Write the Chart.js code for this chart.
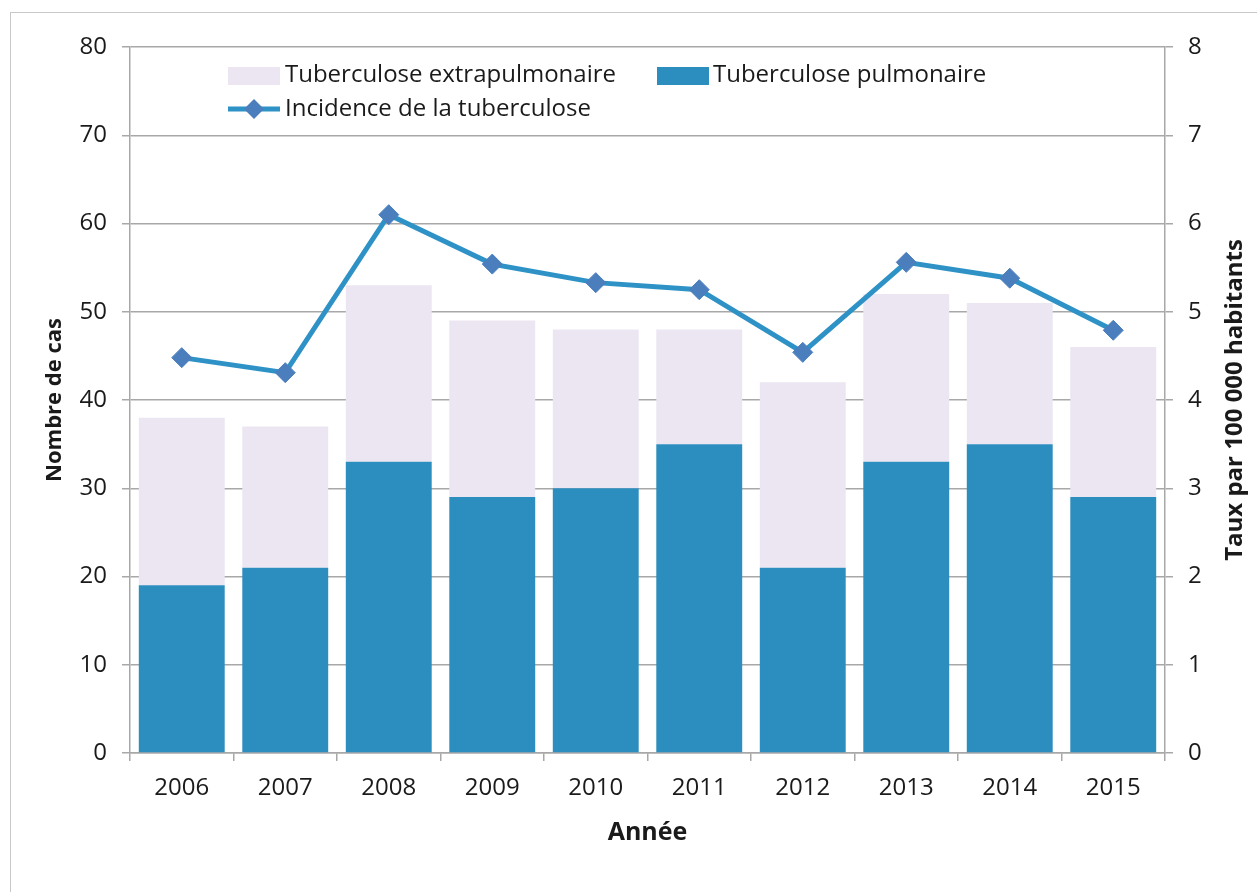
<!DOCTYPE html>
<html lang="fr">
<head>
<meta charset="utf-8">
<title>Tuberculose</title>
<script src="https://cdn.jsdelivr.net/npm/chart.js@4.4.1/dist/chart.umd.min.js"></script>
<style>
  html, body { margin: 0; padding: 0; background: #fff; }
  #wrap { position: relative; width: 1257px; height: 892px; overflow: hidden; }
  #frame { position: absolute; left: 10px; top: 12px; width: 1300px; height: 950px; border: 1px solid #c8c8c8; }
  #chart { position: absolute; left: 0; top: 0; }
</style>
</head>
<body>
<div id="wrap">
  <div id="frame"></div>
  <canvas id="chart" width="1257" height="892"></canvas>
</div>
<script>
// data
const years = ['2006', '2007', '2008', '2009', '2010', '2011', '2012', '2013', '2014', '2015'];
const pulmonaire = [19, 21, 33, 29, 30, 35, 21, 33, 35, 29];
const extrapulmonaire = [19, 16, 20, 20, 18, 13, 21, 19, 16, 17];
const incidence = [4.48, 4.31, 6.10, 5.54, 5.33, 5.25, 4.54, 5.56, 5.38, 4.79];
const leftTicks = [0, 10, 20, 30, 40, 50, 60, 70, 80];
const rightTicks = [0, 1, 2, 3, 4, 5, 6, 7, 8];

const FONT = "'Open Sans', 'DejaVu Sans', sans-serif";
const gridColor = '#a8a8a8';
const textColor = '#1a1a1a';

// legend inside the plot + right axis title (reads bottom to top)
const extras = {
  id: 'extras',
  afterDraw(chart) {
    const ctx = chart.ctx;
    const ds = chart.data.datasets;
    ctx.save();
    ctx.font = '24px ' + FONT;
    ctx.fillStyle = textColor;
    ctx.textBaseline = 'middle';
    ctx.textAlign = 'left';

    // row 1 : extrapulmonaire, pulmonaire
    ctx.fillStyle = ds[1].backgroundColor;
    ctx.fillRect(228, 67, 52, 18);
    ctx.fillStyle = textColor;
    ctx.fillText(ds[1].label, 285, 75);

    ctx.fillStyle = ds[0].backgroundColor;
    ctx.fillRect(657, 67, 52, 18);
    ctx.fillStyle = textColor;
    ctx.fillText(ds[0].label, 713, 75);

    // row 2 : incidence line
    ctx.strokeStyle = ds[2].borderColor;
    ctx.lineWidth = 5;
    ctx.beginPath();
    ctx.moveTo(228, 109);
    ctx.lineTo(280, 109);
    ctx.stroke();
    ctx.fillStyle = ds[2].pointBackgroundColor;
    ctx.beginPath();
    ctx.moveTo(254, 99); ctx.lineTo(264, 109); ctx.lineTo(254, 119); ctx.lineTo(244, 109);
    ctx.closePath();
    ctx.fill();
    ctx.fillStyle = textColor;
    ctx.fillText(ds[2].label, 285, 109);

    // right title
    ctx.font = 'bold 24px ' + FONT;
    ctx.textAlign = 'center';
    ctx.translate(1235, 400);
    ctx.rotate(-Math.PI / 2);
    ctx.fillText('Taux par 100 000 habitants', 0, 0);
    ctx.restore();
  }
};

const ctx = document.getElementById('chart').getContext('2d');
new Chart(ctx, {
  type: 'bar',
  data: {
    labels: years,
    datasets: [
      {
        label: 'Tuberculose pulmonaire',
        data: pulmonaire,
        backgroundColor: '#2c8dbf',
        stack: 'cas',
        yAxisID: 'y',
        order: 2,
        barPercentage: 0.83,
        categoryPercentage: 1
      },
      {
        label: 'Tuberculose extrapulmonaire',
        data: extrapulmonaire,
        backgroundColor: '#ebe6f2',
        stack: 'cas',
        yAxisID: 'y',
        order: 2,
        barPercentage: 0.83,
        categoryPercentage: 1
      },
      {
        type: 'line',
        label: 'Incidence de la tuberculose',
        data: incidence,
        yAxisID: 'y1',
        borderColor: '#2e92c6',
        borderWidth: 5,
        pointStyle: 'rectRot',
        pointRadius: 10,
        pointBackgroundColor: '#4a7ebd',
        pointBorderColor: '#4a7ebd',
        pointBorderWidth: 1,
        tension: 0,
        order: 1
      }
    ]
  },
  options: {
    responsive: false,
    animation: false,
    layout: { padding: { top: 47, left: 0, right: 0, bottom: 0 } },
    plugins: {
      legend: { display: false },
      tooltip: { enabled: false }
    },
    scales: {
      x: {
        stacked: true,
        grid: {
          offset: true,
          drawOnChartArea: false,
          drawTicks: true,
          tickLength: 8,
          color: gridColor,
          lineWidth: 1.5
        },
        border: { color: gridColor, width: 1.5 },
        ticks: { color: textColor, font: { family: FONT, size: 24 }, padding: 13 },
        title: {
          display: true,
          text: 'Année',
          color: textColor,
          font: { family: FONT, size: 25, weight: 'bold' },
          padding: { top: 0, bottom: 44 }
        },
        afterFit: s => { s.height = 139; }
      },
      y: {
        stacked: true,
        position: 'left',
        min: 0,
        max: 80,
        afterBuildTicks: s => { s.ticks = leftTicks.map(v => ({ value: v })); },
        grid: {
          color: gridColor,
          lineWidth: 1.5,
          drawTicks: true,
          tickLength: 8
        },
        border: { color: gridColor, width: 1.5 },
        ticks: { color: textColor, font: { family: FONT, size: 24 }, padding: 15 },
        title: {
          display: true,
          text: 'Nombre de cas',
          color: textColor,
          font: { family: FONT, size: 22, weight: 'bold' },
          padding: { top: 42, bottom: 0 }
        },
        afterFit: s => { s.width = 130; }
      },
      y1: {
        position: 'right',
        min: 0,
        max: 8,
        afterBuildTicks: s => { s.ticks = rightTicks.map(v => ({ value: v })); },
        grid: {
          drawOnChartArea: false,
          drawTicks: true,
          tickLength: 8,
          color: gridColor,
          lineWidth: 1.5
        },
        border: { color: gridColor, width: 1.5 },
        ticks: { color: textColor, font: { family: FONT, size: 24 }, padding: 15 },
        afterFit: s => { s.width = 92; }
      }
    }
  },
  plugins: [extras]
});
</script>
</body>
</html>
